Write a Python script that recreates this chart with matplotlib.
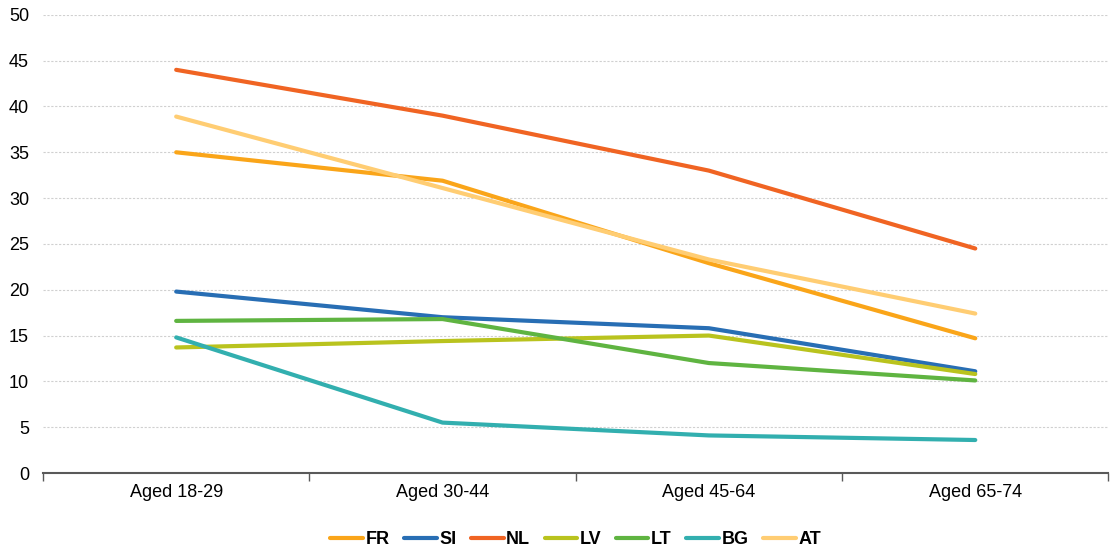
import matplotlib.pyplot as plt
import numpy as np

plt.rcParams['font.family'] = ['Liberation Sans', 'DejaVu Sans']

categories = ['Aged 18-29', 'Aged 30-44', 'Aged 45-64', 'Aged 65-74']
countries = ['FR', 'SI', 'NL', 'LV', 'LT', 'BG', 'AT']
fr = [35.0, 31.9, 22.9, 14.7]
si = [19.8, 17.0, 15.8, 11.1]
nl = [44.0, 39.0, 33.0, 24.5]
lv = [13.7, 14.4, 15.0, 10.8]
lt = [16.6, 16.8, 12.0, 10.1]
bg = [14.8, 5.5, 4.1, 3.6]
at = [38.9, 31.1, 23.3, 17.4]
colors = ['#FAA519', '#286EB4', '#F06423', '#B9C31E', '#5FB441', '#32AFAF', '#FFCD73']

series = [fr, si, nl, lv, lt, bg, at]

fig = plt.figure(figsize=(11.11, 5.5), dpi=100)
ax = fig.add_axes([0.0387, 0.14, 0.959, 0.833])

x = np.arange(len(categories))
for name, vals, c in zip(countries, series, colors):
    ax.plot(x, vals, color=c, linewidth=3, label=name, solid_capstyle='round')

ax.set_xlim(-0.5, len(categories) - 0.5)
ax.set_ylim(0, 50)
ax.set_yticks(np.arange(0, 51, 5))
ax.set_xticks(x)
ax.set_xticklabels(categories)
ax.set_xticks(np.arange(-0.5, len(categories), 1), minor=True)
ax.tick_params(axis='x', which='major', length=0, labelsize=13, pad=8, colors='#000000')
ax.tick_params(axis='x', which='minor', length=6, width=1, color='#595959')
ax.tick_params(axis='y', length=0, labelsize=13, pad=10)

ax.grid(axis='y', linestyle=(0, (2, 1.5)), color='#D0D0D0', linewidth=0.8)
ax.set_axisbelow(True)
for s in ['left', 'right', 'top']:
    ax.spines[s].set_visible(False)
ax.spines['bottom'].set_color('#595959')
ax.spines['bottom'].set_linewidth(1.5)

leg = ax.legend(loc='center', bbox_to_anchor=(0.5, -0.145), ncol=7, frameon=False,
                prop={'weight': 'bold', 'size': 13}, handlelength=1.8,
                handletextpad=0.15, columnspacing=0.8)

fig.savefig('out.png', dpi=100)
